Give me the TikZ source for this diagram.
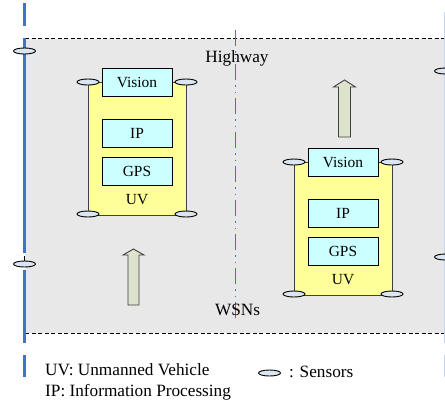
\documentclass[tikz,border=0pt]{standalone}
\usepackage{fontspec}
\setmainfont{Liberation Serif}
\usetikzlibrary{shapes.geometric}
\definecolor{bggray}{HTML}{E8E8E8}
\definecolor{uvyellow}{HTML}{FFFF99}
\definecolor{boxcyan}{HTML}{CCFFFF}
\definecolor{laneblue}{HTML}{4472C4}
\definecolor{lanefaint}{HTML}{C8D6EC}
\definecolor{sensorfill}{HTML}{DCE6F2}
\definecolor{arrowfill}{HTML}{DDE2CC}
\definecolor{edgegray}{HTML}{404040}
\tikzset{
  unitbox/.style={draw=black, line width=0.9bp, fill=boxcyan, minimum width=70bp, minimum height=28bp, inner sep=0pt, font=\fontsize{15.5}{18}\selectfont},
  uvbody/.style={draw=edgegray, line width=1bp, fill=uvyellow, minimum width=98bp, minimum height=133bp, inner sep=0pt},
  sensor/.style={ellipse, draw=black, line width=0.9bp, fill=sensorfill, minimum width=22bp, minimum height=6bp, inner sep=0pt},
  lbl/.style={font=\fontsize{17.3}{20}\selectfont, inner sep=0pt},
  blockarrow/.style={draw=edgegray, line width=0.9bp, fill=arrowfill},
  lane/.style={draw=laneblue, line width=3bp},
  midlane/.style={draw=laneblue, line width=1.8bp, dash pattern=on 16bp off 5bp on 1.5bp off 5bp on 1.5bp off 5bp},
  border/.style={draw=black, line width=0.8bp, dash pattern=on 4bp off 2.5bp}
}
\newcommand{\uvvehicle}[3]{% prefix, x, y (centre of Vision box)
  \node[uvbody] (#1body) at (#2, #3+66.5) {};
  \node[sensor] (#1s1) at (#2-49, #3) {};
  \node[sensor] (#1s2) at (#2+49, #3) {};
  \node[sensor] (#1s3) at (#2-49, #3+132) {};
  \node[sensor] (#1s4) at (#2+49, #3+132) {};
  \node[unitbox] (#1vision) at (#2, #3) {Vision};
  \node[unitbox] (#1ip) at (#2, #3+51) {IP};
  \node[unitbox] (#1gps) at (#2, #3+89.5) {GPS};
  \node[font=\fontsize{15.5}{18}\selectfont, inner sep=0pt] (#1uv) at (#2, #3+118) {UV};
}
\begin{document}
\begin{tikzpicture}[x=1bp, y=-1bp]
\useasboundingbox (0,0) rectangle (445,407);
% highway background
\fill[bggray] (25,38.5) rectangle (445,333);
\draw[border] (25,38.5) -- (445,38.5);
\draw[border] (25,333) -- (445,333);
% right faint lane
\draw[draw=lanefaint, line width=2bp] (444.5,12) -- (444.5,343);
\draw[draw=lanefaint, line width=2bp] (444.5,355) -- (444.5,377);
% left lane
\draw[lane] (24.5,3) -- (24.5,26);
\draw[lane] (24.5,38) -- (24.5,253);
\draw[lane] (24.5,270) -- (24.5,343);
\draw[lane] (24.5,355) -- (24.5,377);
\draw[black, line width=0.6bp] (24.5,256) -- (24.5,262);
% middle lane
\draw[midlane] (235.5,30) -- (235.5,319);
% labels
\node[lbl] (hw) at (237,58) {Highway};
\node[lbl] (wsn) at (237.5,310) {WSNs};
% lane sensors
\node[sensor] (ls1) at (24.5,51) {};
\node[sensor] (ls2) at (24.5,264) {};
\node[sensor] (rs1) at (445.5,71) {};
\node[sensor] (rs2) at (445.5,257) {};
% arrows
\draw[blockarrow] (128,305) -- (128,255) -- (123,255) -- (133.5,249) -- (144,255) -- (139,255) -- (139,305) -- cycle;
\draw[blockarrow] (338.5,137) -- (338.5,87) -- (333.5,87) -- (344.5,80) -- (355.5,87) -- (350.5,87) -- (350.5,137) -- cycle;
% vehicles
\uvvehicle{a}{137}{82}
\uvvehicle{b}{343}{162}
% legend
\node[lbl, anchor=west] (leg1) at (45,370) {UV: Unmanned Vehicle};
\node[lbl, anchor=west] (leg2) at (45,392) {IP: Information Processing};
\node[sensor] (legs) at (269.5,373) {};
\node[lbl, anchor=west] (leg3) at (289,372) {: Sensors};
\end{tikzpicture}
\end{document}
